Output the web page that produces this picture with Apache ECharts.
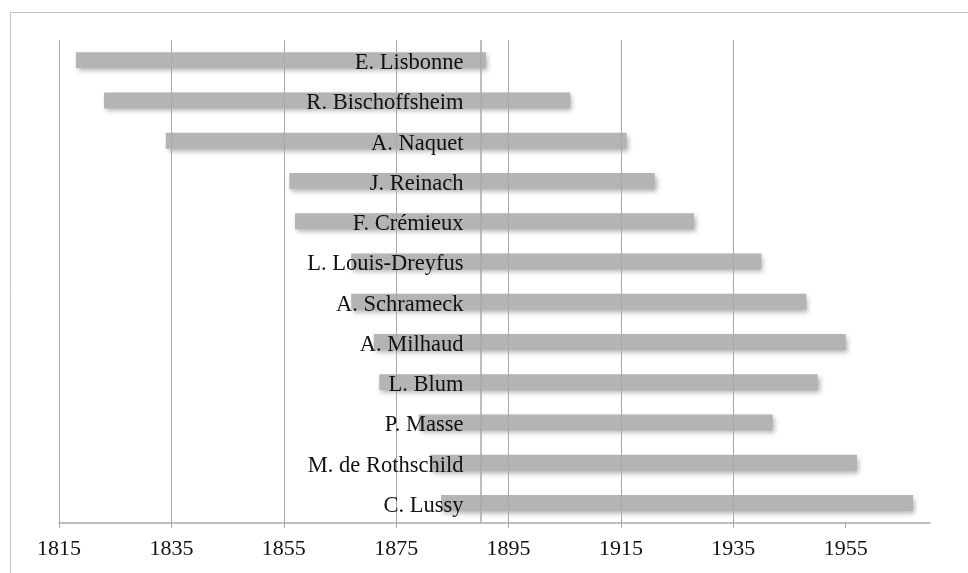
<!DOCTYPE html>
<html>
<head>
<meta charset="utf-8">
<script src="https://cdn.jsdelivr.net/npm/echarts@6/dist/echarts.min.js"></script>
<style>
html,body{margin:0;padding:0;background:#fff;}
#chart{width:968px;height:573px;}
</style>
</head>
<body>
<div id="chart"></div>
<script>
var names = ["E. Lisbonne","R. Bischoffsheim","A. Naquet","J. Reinach","F. Crémieux","L. Louis-Dreyfus","A. Schrameck","A. Milhaud","L. Blum","P. Masse","M. de Rothschild","C. Lussy"];
var births = [1818,1823,1834,1856,1857,1867,1867,1871,1872,1879,1881,1883];
var deaths = [1891,1906,1916,1921,1928,1940,1948,1955,1950,1942,1957,1967];
var tickYears = [1815,1835,1855,1875,1895,1915,1935,1955];
var axisCross = 1890;

var spans = deaths.map(function(d,i){ return d - births[i]; });
var gridColor = '#a9a9a9';
var font = '"Liberation Serif", "Times New Roman", serif';

var chart = echarts.init(document.getElementById('chart'));
chart.setOption({
  animation: false,
  graphic: [{
    type: 'rect', left: 8, top: 10, z: -10,
    shape: {width: 980, height: 600},
    style: {fill: 'none', stroke: '#c4c4c4', lineWidth: 1}
  }],
  grid: {left: 59, right: 38, top: 40, bottom: 50},
  xAxis: {
    type: 'value', min: 1815, max: 1970, interval: 20, z: 10,
    axisLine: {show: true, lineStyle: {color: gridColor, width: 1.5}},
    axisTick: {show: true, length: 5, inside: false, customValues: tickYears, lineStyle: {color: gridColor}},
    axisLabel: {customValues: tickYears, margin: 15, color: '#111', fontFamily: font, fontSize: 22,
      formatter: function(v){ return String(v); }},
    splitLine: {show: true, showMaxLine: false, lineStyle: {color: gridColor, width: 1}}
  },
  yAxis: {
    type: 'category', data: names, inverse: true, z: 10,
    axisLine: {show: false},
    axisTick: {show: false},
    axisLabel: {show: false}
  },
  series: [{
    type: 'bar', stack: 'life', data: births, barWidth: 16,
    itemStyle: {color: 'transparent'}, silent: true
  },{
    type: 'bar', stack: 'life', data: spans, barWidth: 16,
    itemStyle: {color: '#b4b4b4', shadowColor: 'rgba(0,0,0,0.3)', shadowBlur: 5, shadowOffsetX: 2, shadowOffsetY: 3},
    markLine: {
      silent: true, symbol: 'none', z: 5,
      label: {show: false},
      lineStyle: {color: gridColor, type: 'solid', width: 1.5},
      data: [{xAxis: axisCross}]
    }
  },{
    type: 'bar', data: names.map(function(){ return axisCross; }), barGap: '-100%', barWidth: 16,
    itemStyle: {color: 'transparent'}, silent: true, z: 20,
    label: {show: true, position: 'insideRight', distance: 17, offset: [0, 3],
      formatter: function(p){ return names[p.dataIndex]; },
      color: '#111', fontFamily: font, fontSize: 22.5}
  }]
});
</script>
</body>
</html>
